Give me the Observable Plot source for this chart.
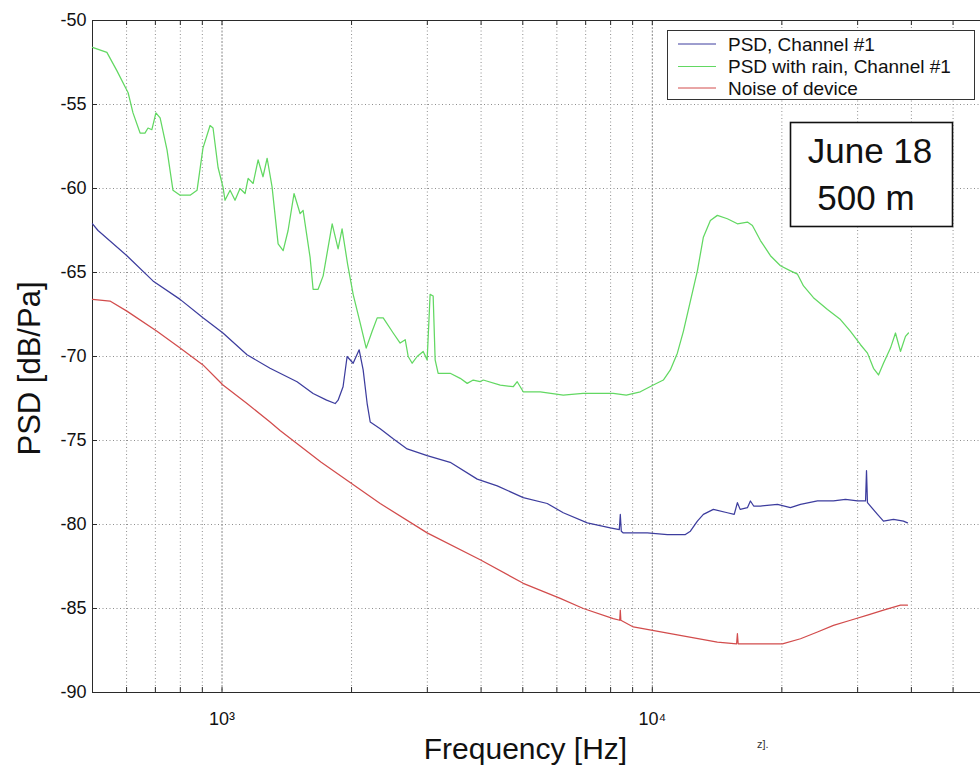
<!DOCTYPE html>
<html>
<head>
<meta charset="utf-8">
<script src="https://cdn.jsdelivr.net/npm/d3@7"></script>
<script src="https://cdn.jsdelivr.net/npm/@observablehq/plot@0.6"></script>
<style>
  html, body { margin: 0; padding: 0; background: #fff; }
  #chart { width: 980px; height: 774px; }
</style>
</head>
<body>
<div id="chart"></div>
<script>
// ---- Data ----
// PSD, Channel #1 (blue)
const ch1Freq = [500, 515, 601, 691, 799, 903, 1005, 1143, 1293, 1494, 1628, 1750, 1832, 1861, 1911, 1953, 2017, 2083, 2128, 2174, 2210, 2331, 2499, 2693, 2997, 3390, 3918, 4361, 5012, 5698, 6209, 7062, 7986, 8380, 8425, 8470, 8561, 9737, 10836, 11935, 12259, 12727, 13141, 13864, 14942, 15500, 15766, 16000, 16634, 16903, 17200, 17834, 19534, 20941, 22098, 24198, 26361, 28111, 29985, 31300, 31460, 31623, 33366, 34450, 36348, 38343, 39174];
const ch1Db = [-62.1, -62.5, -64.0, -65.5, -66.6, -67.7, -68.6, -69.9, -70.7, -71.5, -72.2, -72.6, -72.8, -72.6, -71.8, -70.0, -70.4, -69.6, -70.8, -72.8, -73.9, -74.3, -74.9, -75.5, -75.9, -76.3, -77.3, -77.7, -78.4, -78.75, -79.3, -79.9, -80.2, -80.3, -79.4, -80.4, -80.5, -80.5, -80.6, -80.6, -80.4, -79.8, -79.4, -79.1, -79.3, -79.4, -78.7, -79.1, -79.0, -78.6, -78.9, -78.9, -78.8, -79.0, -78.8, -78.6, -78.6, -78.5, -78.6, -78.6, -76.8, -78.7, -79.4, -79.8, -79.7, -79.8, -79.9];

// PSD with rain, Channel #1 (green)
const rainFreq = [500, 540, 570, 605, 621, 645, 662, 673, 687, 702, 718, 745, 769, 799, 843, 875, 903, 938, 953, 979, 1005, 1016, 1044, 1072, 1101, 1131, 1150, 1181, 1213, 1245, 1273, 1307, 1350, 1387, 1424, 1470, 1519, 1543, 1602, 1628, 1672, 1718, 1803, 1861, 1901, 1958, 2017, 2094, 2163, 2233, 2294, 2369, 2499, 2594, 2665, 2708, 2766, 2841, 2934, 2997, 3045, 3095, 3128, 3179, 3390, 3577, 3714, 3835, 3981, 4046, 4432, 4750, 4853, 5012, 5490, 6209, 6900, 7568, 8115, 8700, 9378, 10054, 10607, 11012, 11433, 11808, 12259, 12727, 13141, 13643, 14163, 14942, 15766, 16634, 17085, 17834, 18814, 19850, 20941, 21745, 22458, 23686, 25530, 27369, 28876, 30468, 31623, 32660, 33545, 34450, 35767, 36737, 37730, 38756, 39383];
const rainDb = [-51.6, -51.9, -53.0, -54.3, -55.5, -56.7, -56.7, -56.4, -56.5, -55.5, -55.8, -57.7, -60.1, -60.4, -60.4, -60.1, -57.6, -56.25, -56.4, -58.75, -59.9, -60.7, -60.1, -60.7, -60.0, -60.3, -59.4, -59.7, -58.3, -59.3, -58.2, -59.9, -63.3, -63.7, -62.5, -60.3, -61.5, -61.3, -64.1, -66.0, -66.0, -65.2, -62.1, -63.6, -62.4, -64.5, -66.3, -68.0, -69.5, -68.5, -67.7, -67.7, -68.6, -69.2, -69.0, -70.0, -70.4, -70.0, -69.7, -70.2, -66.3, -66.4, -70.2, -71.0, -71.0, -71.3, -71.6, -71.4, -71.5, -71.4, -71.7, -71.8, -71.5, -72.1, -72.1, -72.3, -72.2, -72.2, -72.2, -72.3, -72.1, -71.7, -71.4, -70.8, -69.8, -68.5, -66.7, -64.9, -62.9, -61.9, -61.6, -61.8, -62.1, -62.0, -62.2, -63.1, -64.0, -64.6, -64.9, -65.1, -65.8, -66.5, -67.2, -67.8, -68.5, -69.3, -69.8, -70.7, -71.1, -70.4, -69.5, -68.6, -69.7, -68.8, -68.6];

// Noise of device (red)
const noiseFreq = [500, 549, 601, 706, 799, 903, 1005, 1143, 1293, 1364, 1700, 2331, 2997, 3981, 5012, 6109, 6913, 8115, 8400, 8425, 8450, 9033, 11600, 14163, 15700, 15766, 15830, 16903, 20064, 22098, 24198, 26361, 28876, 31623, 34450, 37730, 39174];
const noiseDb = [-66.6, -66.7, -67.3, -68.5, -69.5, -70.5, -71.7, -72.8, -73.9, -74.4, -76.3, -78.75, -80.5, -82.1, -83.5, -84.4, -85.0, -85.6, -85.7, -85.1, -85.7, -86.1, -86.6, -87.0, -87.1, -86.5, -87.1, -87.1, -87.1, -86.8, -86.4, -86.0, -85.7, -85.4, -85.1, -84.8, -84.8];

const seriesNames = ["PSD, Channel #1", "PSD with rain, Channel #1", "Noise of device"];
const seriesColors = ["#3d3d9e", "#62d862", "#d24c4c"];

// Axis ticks / grid
const yTicks = [-90, -85, -80, -75, -70, -65, -60, -55, -50];
const xDecades = [1000, 10000];
const xMinor = [600, 700, 800, 900, 2000, 3000, 4000, 5000, 6000, 7000, 8000, 9000, 20000, 30000, 40000, 50000];
const xDomain = [500, 57900];

const annotationLines = ["June 18", "500 m"];
const xLabel = "Frequency [Hz]";
const yLabel = "PSD [dB/Pa]";

// ---- Build tables ----
const toRows = (fs, ds, name) => fs.map((f, i) => ({f, db: ds[i], name}));
const series = [
  toRows(ch1Freq, ch1Db, seriesNames[0]),
  toRows(rainFreq, rainDb, seriesNames[1]),
  toRows(noiseFreq, noiseDb, seriesNames[2])
];
const allX = xMinor.concat(xDecades);
const sup = {3: "\u00b3", 4: "\u2074"};

const gridStyle = {stroke: "#8e8e8e", strokeWidth: 1, strokeDasharray: "1,2.5"};
const axisColor = "#2a2a2a";

const chart = Plot.plot({
  width: 980,
  height: 774,
  marginLeft: 92,
  marginRight: 0,
  marginTop: 20,
  marginBottom: 82,
  x: {type: "log", domain: xDomain},
  y: {domain: [-90, -50]},
  style: {fontFamily: "'Liberation Sans', Arial, sans-serif", background: "white", color: "#111"},
  marks: [
    Plot.ruleY(yTicks.slice(1, -1), gridStyle),
    Plot.ruleX(xMinor, gridStyle),
    Plot.ruleX(xDecades, {stroke: "#888", strokeWidth: 1, strokeDasharray: "2,1.5"}),
    // frame (left, top, bottom)
    Plot.ruleY([-90, -50], {stroke: axisColor, strokeWidth: 1}),
    Plot.ruleX([xDomain[0]], {stroke: axisColor, strokeWidth: 1}),
    // inward ticks
    Plot.ruleX(allX, {stroke: axisColor, insetTop: 667}),
    Plot.ruleX(allX, {stroke: axisColor, insetBottom: 667}),
    Plot.ruleY(yTicks, {stroke: axisColor, insetRight: 883}),
    // data
    ...series.map((rows, i) => Plot.line(rows, {x: "f", y: "db", stroke: seriesColors[i], strokeWidth: 1.25})),
    // axes
    Plot.axisY(yTicks, {tickSize: 0, tickPadding: 6, fontSize: 18, tickFormat: d => String(d), label: null}),
    Plot.axisX(xDecades, {tickSize: 0, tickPadding: 20, fontSize: 18, tickFormat: d => "10" + sup[Math.round(Math.log10(d))], label: null}),
    Plot.text([xLabel], {frameAnchor: "bottom", dx: -11, dy: 66, fontSize: 30, text: d => d, fill: "#111"}),
    Plot.text([yLabel], {frameAnchor: "left", textAnchor: "middle", rotate: -90, dx: -62, dy: 12, fontSize: 31, text: d => d, fill: "#111"})
  ]
});
document.getElementById("chart").appendChild(chart);

// ---- Legend and annotation drawn into the same SVG ----
const svg = d3.select(chart);
const font = "'Liberation Sans', Arial, sans-serif";
const lg = svg.append("g").attr("text-anchor", "start");
lg.append("rect").attr("x", 667.5).attr("y", 30.5).attr("width", 307).attr("height", 69)
  .attr("fill", "white").attr("stroke", "#333").attr("stroke-width", 1);
const rowY = [44, 66.5, 88];
seriesNames.forEach((n, i) => {
  lg.append("line").attr("x1", 678).attr("x2", 716).attr("y1", rowY[i]).attr("y2", rowY[i])
    .attr("stroke", seriesColors[i]).attr("stroke-width", 1);
  lg.append("text").attr("x", 728).attr("y", rowY[i] + 6.5).attr("font-family", font)
    .attr("text-anchor", "start").attr("font-size", 19).attr("fill", "#111").text(n);
});

const an = svg.append("g");
an.append("rect").attr("x", 790.5).attr("y", 122.5).attr("width", 162).attr("height", 104)
  .attr("fill", "white").attr("stroke", "#111").attr("stroke-width", 1.6);
an.append("text").attr("x", 870).attr("y", 163).attr("text-anchor", "middle").attr("font-family", font)
  .attr("font-size", 35).attr("fill", "#111").text(annotationLines[0]);
an.append("text").attr("x", 866).attr("y", 210).attr("text-anchor", "middle").attr("font-family", font)
  .attr("font-size", 35).attr("fill", "#111").text(annotationLines[1]);

// small stray text fragment present in the reference
svg.append("text").attr("x", 757).attr("y", 748).attr("font-family", font).attr("text-anchor", "start")
  .attr("font-size", 11).attr("fill", "#333").text("z].");
</script>
</body>
</html>
